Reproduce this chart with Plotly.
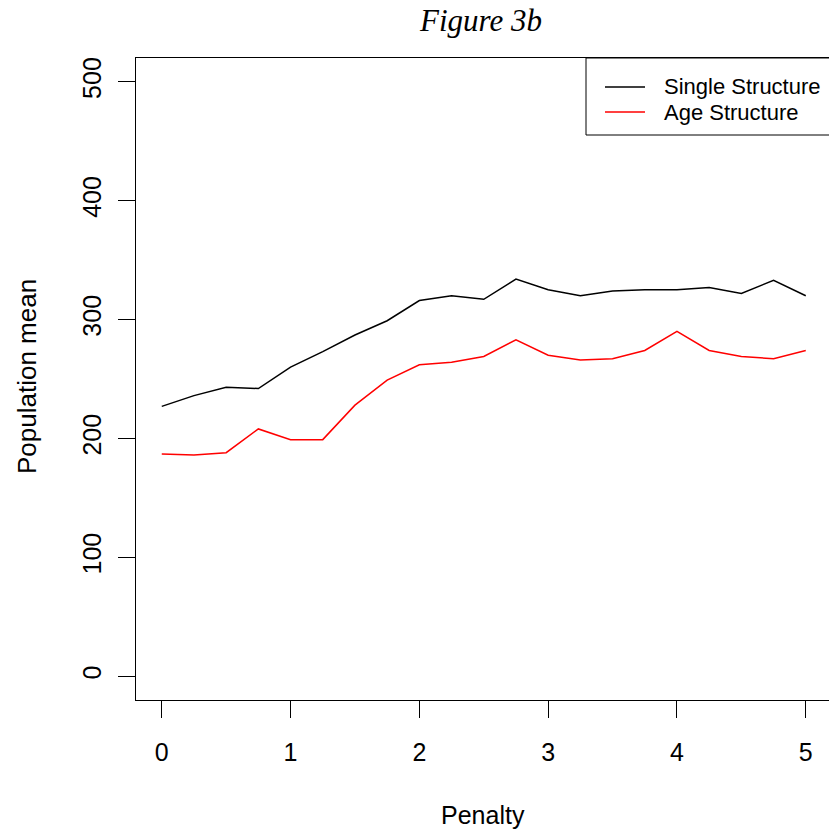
import plotly.graph_objects as go

penalty = [0, 0.25, 0.5, 0.75, 1.0, 1.25, 1.5, 1.75, 2.0, 2.25, 2.5,
           2.75, 3.0, 3.25, 3.5, 3.75, 4.0, 4.25, 4.5, 4.75, 5.0]
single_structure = [227, 236, 243, 242, 260, 273, 287, 299, 316, 320, 317,
                    334, 325, 320, 324, 325, 325, 327, 322, 333, 320]
age_structure = [187, 186, 188, 208, 199, 199, 228, 249, 262, 264, 269,
                 283, 270, 266, 267, 274, 290, 274, 269, 267, 274]
series_names = ["Single Structure", "Age Structure"]
series_colors = ["#000000", "#FF0000"]
x_ticks = [0, 1, 2, 3, 4, 5]
y_ticks = [0, 100, 200, 300, 400, 500]

W, H = 829, 836
L, R, T, B = 136, 0, 58, 136
pw, ph = W - L - R, H - T - B

def px(x):
    return (x - L) / pw

def py(y):
    return (H - B - y) / ph

fig = go.Figure()
for name, ys, col in zip(series_names, [single_structure, age_structure], series_colors):
    fig.add_trace(go.Scatter(x=penalty, y=ys, mode="lines", name=name,
                             line=dict(color=col, width=1.5), showlegend=False))

sans = "Liberation Sans, Arial, sans-serif"
fig.update_layout(
    width=W, height=H,
    margin=dict(l=L, r=R, t=T, b=B, pad=0),
    paper_bgcolor="white", plot_bgcolor="white",
    font=dict(family=sans, color="#000000", size=24),
    xaxis=dict(range=[-0.2, -0.2 + pw / 128.8], tickvals=x_ticks, ticks="outside",
               ticklen=17, tickwidth=1, tickcolor="#000", showline=True, linecolor="#000",
               linewidth=1, mirror=True, showgrid=False, zeroline=False,
               tickfont=dict(size=25, family=sans), ticklabelstandoff=13),
    yaxis=dict(range=[-20, 520], tickvals=y_ticks, ticks="outside",
               ticklen=17, tickwidth=1, tickcolor="#000", showline=True, linecolor="#000",
               linewidth=1, mirror=False, showgrid=False, zeroline=False, tickangle=-90,
               tickfont=dict(size=25, family=sans), ticklabelstandoff=7),
)

# Title and axis titles
fig.add_annotation(text="Figure 3b", xref="paper", yref="paper", x=px(480), y=py(20),
                   showarrow=False, xanchor="center", yanchor="middle",
                   font=dict(family="Liberation Serif, Times New Roman, serif", size=31, style="italic"))
fig.add_annotation(text="Penalty", xref="paper", yref="paper", x=px(483), y=py(815),
                   showarrow=False, xanchor="center", yanchor="middle", font=dict(size=25))
fig.add_annotation(text="Population mean", xref="paper", yref="paper", x=px(27), y=py(377),
                   showarrow=False, xanchor="center", yanchor="middle", textangle=-90,
                   font=dict(size=26))

# Legend box
fig.add_shape(type="rect", xref="paper", yref="paper", x0=px(586), x1=px(845),
              y0=py(135), y1=py(58), line=dict(color="#000", width=1), fillcolor="white")
for i, (name, col) in enumerate(zip(series_names, series_colors)):
    yy = 87 + 25 * i
    fig.add_shape(type="line", xref="paper", yref="paper", x0=px(605), x1=px(645),
                  y0=py(yy), y1=py(yy), line=dict(color=col, width=1.5))
    fig.add_annotation(text=name, xref="paper", yref="paper", x=px(662), y=py(yy),
                       showarrow=False, xanchor="left", yanchor="middle",
                       font=dict(size=22))

fig.write_html("out.html")
